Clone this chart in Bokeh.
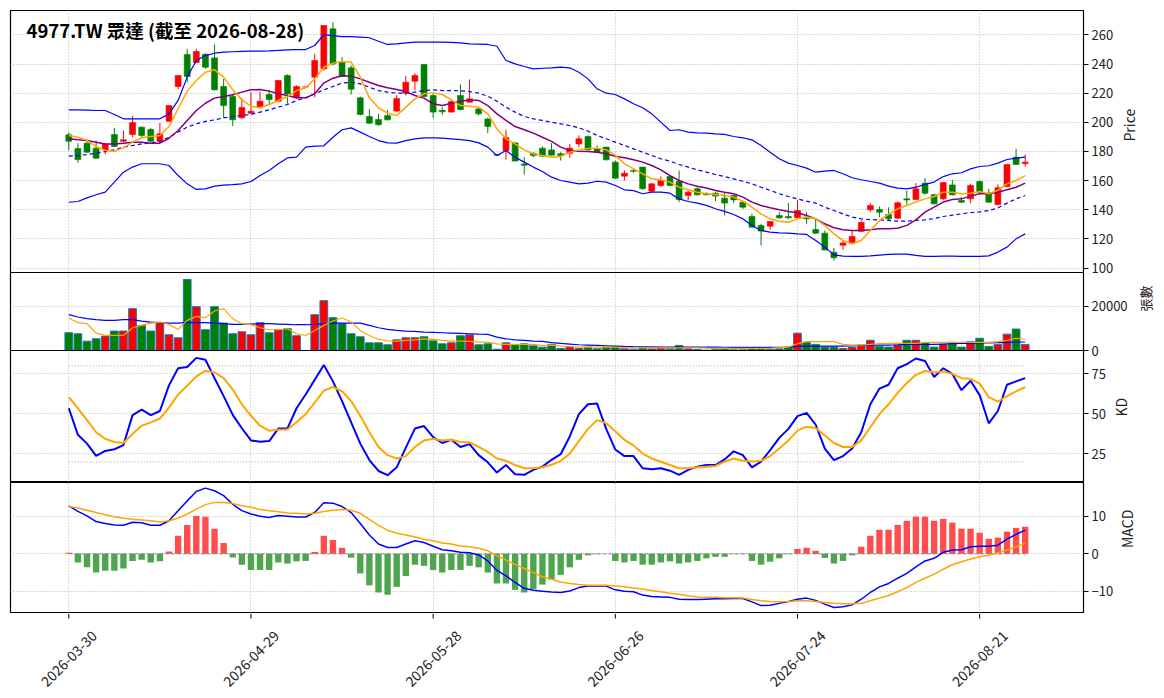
import math
from bokeh.plotting import figure
from bokeh.layouts import column
from bokeh.models import FixedTicker, Range1d, Label, ColumnDataSource
from bokeh.core.properties import value
from bokeh.embed import file_html
from bokeh.resources import INLINE

title_text = "4977.TW 眾達 (截至 2026-08-28)"
tick_pos = [0, 20, 40, 60, 80, 100]
tick_labels = ["2026-03-30", "2026-04-29", "2026-05-28", "2026-06-26", "2026-07-24", "2026-08-21"]

open_ = [191.4, 182.0, 185.7, 182.3, 181.1, 191.6, 187.0, 191.7, 196.7, 195.1,
         187.1, 200.8, 224.6, 246.5, 241.0, 246.7, 244.2, 224.6, 217.7, 203.1,
         206.3, 210.4, 219.1, 214.5, 232.1, 216.8, 224.3, 231.0, 236.7, 264.1,
         241.2, 237.4, 216.8, 204.0, 202.0, 204.7, 207.7, 220.0, 228.2, 239.6,
         218.4, 208.2, 207.0, 218.4, 213.8, 209.2, 202.2, 178.0, 180.7, 185.9,
         171.4, 178.8, 182.3, 181.1, 178.5, 178.8, 185.2, 190.3, 181.8, 183.0,
         172.7, 163.1, 167.0, 169.3, 152.8, 156.7, 162.8, 159.4, 149.8, 154.4,
         151.0, 151.4, 148.0, 149.8, 145.2, 135.4, 129.2, 128.8, 136.1, 135.4,
         134.5, 135.0, 126.5, 124.0, 110.9, 115.7, 117.1, 125.3, 140.0, 140.2,
         136.8, 134.2, 147.5, 147.1, 158.3, 150.3, 147.5, 157.1, 146.4, 147.5,
         159.4, 151.4, 143.6, 156.0, 176.1, 171.6]
high = [193.2, 185.7, 187.0, 187.5, 185.7, 196.2, 194.4, 204.4, 197.1, 196.2,
        199.6, 211.5, 232.1, 250.4, 250.4, 247.4, 253.4, 229.8, 219.5, 216.8,
        220.7, 221.1, 222.3, 229.0, 233.0, 225.3, 224.3, 247.0, 266.4, 268.7,
        244.7, 239.0, 217.7, 209.0, 205.8, 208.6, 218.9, 231.7, 233.7, 240.1,
        219.5, 210.4, 215.0, 226.0, 229.4, 210.4, 203.1, 178.0, 194.9, 186.4,
        176.1, 179.5, 183.4, 185.7, 179.5, 185.2, 191.0, 191.0, 184.1, 183.0,
        173.8, 167.0, 168.6, 169.3, 158.3, 162.8, 163.5, 167.0, 153.2, 155.5,
        152.0, 152.1, 152.1, 150.3, 145.7, 137.2, 130.4, 132.0, 138.4, 144.6,
        146.8, 138.4, 133.8, 125.8, 113.9, 119.0, 125.8, 132.7, 144.5, 142.3,
        141.8, 145.7, 153.2, 158.3, 161.7, 151.0, 158.7, 160.5, 148.7, 157.8,
        160.1, 154.4, 157.3, 171.1, 181.8, 178.0]
low = [180.7, 172.2, 179.0, 175.0, 178.0, 183.0, 186.4, 189.8, 189.8, 186.4,
       186.6, 200.3, 222.7, 227.5, 240.6, 236.7, 221.8, 203.1, 197.4, 202.4,
       205.8, 210.0, 211.8, 213.8, 212.7, 216.0, 224.3, 217.2, 235.5, 239.0,
       231.0, 219.1, 204.7, 199.0, 197.8, 201.3, 207.0, 218.4, 221.8, 217.2,
       203.1, 205.1, 206.7, 208.1, 213.8, 204.7, 192.6, 177.5, 174.3, 173.4,
       164.2, 176.1, 176.1, 177.2, 173.8, 175.7, 183.0, 180.7, 179.5, 173.8,
       161.2, 160.1, 165.4, 153.9, 152.1, 155.5, 156.2, 145.2, 146.4, 149.8,
       150.0, 146.0, 136.1, 144.6, 140.7, 128.1, 115.5, 126.3, 133.8, 133.8,
       133.8, 130.4, 123.5, 112.1, 105.2, 112.5, 116.7, 124.7, 138.4, 134.9,
       132.7, 133.8, 143.4, 147.1, 150.3, 143.6, 146.8, 149.8, 144.5, 144.5,
       151.6, 144.8, 142.9, 155.5, 171.1, 169.7]
close = [187.0, 174.5, 179.5, 175.4, 185.2, 183.4, 188.0, 199.9, 191.0, 187.1,
         192.1, 211.5, 232.1, 231.4, 248.6, 237.8, 222.3, 211.5, 201.7, 210.2,
         207.6, 214.5, 215.7, 228.7, 219.5, 224.6, 224.3, 242.4, 266.4, 240.1,
         231.4, 222.7, 205.4, 199.4, 198.3, 201.7, 216.3, 227.5, 232.1, 217.7,
         207.0, 207.2, 214.3, 208.8, 216.1, 205.8, 197.1, 177.5, 189.4, 173.4,
         170.5, 177.2, 176.8, 177.5, 177.2, 182.3, 188.7, 181.1, 179.5, 174.3,
         161.7, 165.1, 166.4, 154.4, 157.8, 160.1, 156.7, 147.1, 152.1, 150.3,
         150.3, 149.4, 144.6, 146.8, 141.8, 128.1, 125.4, 132.0, 134.5, 134.5,
         139.5, 133.8, 124.0, 112.5, 107.1, 117.3, 121.7, 131.3, 143.0, 138.4,
         133.8, 144.8, 146.8, 154.4, 151.4, 144.1, 158.7, 150.3, 145.2, 156.7,
         152.1, 145.2, 155.1, 171.1, 171.1, 172.7]
volume = [8030, 7575, 4240, 5300, 6515, 8790, 8790, 18940, 11360, 8790,
          12575, 7120, 5760, 32120, 19850, 9390, 19850, 12420, 7575, 8485,
          7120, 12575, 8030, 9390, 9850, 6665, 0, 16210, 22570, 14850,
          12120, 7575, 6210, 3485, 3485, 2575, 4850, 5760, 5760, 6210,
          4390, 3030, 3485, 6665, 7120, 2575, 3030, 600, 3485, 2575,
          3030, 2120, 1515, 2770, 900, 1540, 900, 1540, 770, 1540,
          1850, 770, 600, 1230, 770, 1230, 770, 2300, 770, 460,
          150, 600, 770, 300, 300, 770, 770, 460, 770, 1540,
          7850, 3700, 2770, 1540, 1540, 920, 1540, 2460, 4620, 1850,
          1540, 2460, 4620, 4620, 3390, 1540, 2770, 3700, 1540, 4000,
          5540, 1850, 2770, 7390, 9700, 2770]
vol_ma5 = [14700, 12575, 12120, 7880, 6800, 6800, 6800, 10300, 11360, 12420,
           12880, 11820, 9540, 13635, 15450, 14850, 17880, 18940, 14390, 12120,
           11665, 10300, 9390, 9390, 9850, 7575, 6800, 9090, 11360, 13330,
           14700, 12880, 9090, 6800, 5000, 4390, 4240, 4545, 4850, 5300,
           5000, 4545, 4240, 4240, 4090, 3790, 3790, 3030, 2730, 2730,
           2730, 2730, 2270, 2460, 2000, 1800, 1540, 1540, 1540, 1540,
           1540, 1300, 1230, 1230, 1230, 1230, 1230, 1230, 1230, 1230,
           1100, 1000, 1000, 1000, 1000, 1000, 1000, 1000, 1300, 1540,
           3080, 4000, 4000, 4000, 4000, 2770, 2460, 2460, 2770, 3080,
           3230, 3230, 3230, 3230, 3700, 3700, 3700, 3700, 3700, 3700,
           3700, 3700, 4000, 4620, 5540, 5080]
vol_ma20 = [16210, 15150, 14390, 13940, 13635, 13635, 13940, 13940, 13330, 12880,
            12575, 12420, 12420, 12725, 12575, 12575, 12420, 12120, 11820, 11820,
            11970, 12120, 12120, 11970, 11820, 11665, 11665, 11820, 12120, 12420,
            12420, 12420, 12420, 11360, 10300, 9540, 9090, 8790, 8640, 8330,
            8180, 8030, 7880, 7725, 7575, 7420, 7270, 6060, 5300, 4850,
            4545, 4240, 4090, 3540, 3230, 2920, 2610, 2460, 2310, 2150,
            2000, 1850, 1770, 1700, 1620, 1540, 1540, 1540, 1540, 1540,
            1540, 1540, 1460, 1380, 1380, 1380, 1380, 1380, 1460, 1540,
            1850, 2000, 2000, 2000, 2000, 2000, 2150, 2310, 2460, 2460,
            2460, 2610, 2770, 2770, 2770, 2770, 2920, 3080, 3230, 3230,
            3390, 3390, 3540, 3700, 3850, 3850]
ma5 = [191.0, 189.8, 187.6, 183.4, 180.7, 180.2, 182.5, 186.4, 189.4, 190.3,
       191.0, 197.1, 209.3, 221.4, 228.7, 234.4, 236.0, 231.0, 222.3, 215.4,
       211.1, 210.0, 212.2, 215.0, 217.7, 221.8, 223.7, 229.8, 237.8, 240.6,
       241.7, 241.3, 231.0, 216.8, 210.0, 206.3, 204.7, 210.4, 216.1, 219.6,
       220.2, 219.1, 215.4, 211.5, 211.1, 210.4, 205.8, 195.5, 188.7, 185.2,
       181.1, 178.4, 177.2, 176.1, 176.6, 179.5, 181.1, 182.0, 182.3, 181.1,
       177.3, 171.5, 168.1, 164.7, 161.3, 160.6, 159.0, 155.5, 153.7, 152.1,
       151.0, 150.5, 149.8, 148.7, 145.9, 141.8, 137.2, 133.8, 132.2, 131.5,
       133.8, 135.0, 133.8, 129.3, 123.5, 119.0, 116.7, 119.0, 125.8, 132.7,
       136.8, 140.7, 143.0, 145.3, 147.5, 149.1, 152.1, 152.1, 151.0, 151.4,
       152.6, 151.0, 153.3, 157.8, 160.1, 163.5]
ma10 = [188.7, 188.0, 187.6, 186.4, 185.2, 185.2, 185.7, 186.4, 186.4, 185.7,
        185.7, 189.1, 194.4, 201.3, 208.1, 213.1, 216.6, 217.7, 218.9, 220.7,
        222.3, 222.5, 221.4, 219.6, 218.4, 216.8, 216.8, 219.6, 226.9, 230.3,
        231.9, 231.7, 229.8, 227.5, 225.3, 223.7, 222.5, 221.1, 218.4, 216.6,
        212.7, 211.5, 213.1, 214.5, 215.4, 215.0, 211.5, 205.8, 201.3, 197.1,
        194.9, 192.6, 189.8, 186.9, 183.0, 180.7, 180.2, 180.0, 179.5, 178.4,
        176.8, 175.7, 174.3, 172.7, 170.4, 167.4, 163.5, 160.1, 157.8, 156.2,
        154.9, 153.3, 152.1, 151.0, 148.7, 145.3, 143.0, 141.4, 140.0, 138.9,
        138.0, 136.1, 133.8, 130.4, 127.7, 126.3, 125.8, 125.8, 126.3, 127.0,
        127.0, 127.4, 129.3, 133.1, 138.4, 141.8, 145.3, 147.1, 147.5, 149.4,
        151.0, 151.0, 152.1, 153.7, 155.5, 158.3]
ma20 = [176.8, 177.2, 177.9, 178.8, 180.0, 181.1, 183.0, 184.1, 185.2, 185.9,
        186.8, 189.8, 193.3, 196.7, 199.0, 200.6, 201.7, 203.1, 204.0, 204.7,
        205.4, 207.0, 208.6, 210.4, 212.2, 215.0, 216.8, 219.6, 222.3, 224.6,
        226.9, 227.5, 226.4, 224.1, 221.8, 220.7, 220.0, 220.0, 220.7, 221.8,
        222.3, 221.8, 221.8, 221.6, 221.1, 220.0, 217.9, 214.5, 210.4, 207.0,
        204.0, 202.4, 201.3, 200.1, 199.0, 197.8, 196.2, 194.0, 191.0, 188.7,
        186.4, 184.1, 181.8, 179.5, 177.3, 175.0, 173.4, 171.1, 169.3, 167.4,
        165.8, 164.2, 162.8, 161.2, 159.6, 157.8, 155.5, 153.3, 151.0, 149.1,
        147.5, 145.9, 144.6, 141.8, 139.5, 137.2, 135.0, 133.8, 133.3, 133.1,
        132.7, 132.2, 132.2, 132.7, 133.1, 134.0, 135.4, 136.3, 137.2, 138.1,
        138.6, 139.5, 141.3, 144.6, 147.5, 149.8]
bb_upper = [208.6, 208.6, 208.4, 208.1, 208.1, 205.4, 202.4, 202.4, 202.4, 202.4,
            202.4, 205.8, 215.0, 231.0, 242.4, 245.8, 247.4, 248.1, 248.4, 248.6,
            248.8, 248.8, 249.0, 249.3, 249.7, 249.9, 249.9, 252.7, 260.2, 259.5,
            258.8, 258.8, 258.4, 258.0, 255.6, 253.4, 253.8, 254.5, 255.0, 255.0,
            255.0, 255.0, 254.8, 254.5, 253.8, 253.6, 253.4, 252.2, 242.4, 240.1,
            238.3, 236.7, 237.1, 237.4, 237.8, 237.4, 234.4, 229.8, 223.0, 220.0,
            219.1, 216.1, 212.7, 210.0, 205.8, 200.1, 194.4, 194.9, 193.3, 192.8,
            192.6, 192.1, 191.7, 190.3, 189.4, 188.0, 184.1, 179.5, 175.0, 172.0,
            170.4, 168.6, 165.8, 166.5, 167.0, 164.7, 162.0, 160.6, 159.4, 158.3,
            156.2, 154.9, 154.4, 155.5, 157.4, 159.0, 162.8, 164.7, 165.4, 168.1,
            169.7, 170.2, 172.0, 174.5, 175.4, 176.1]
bb_lower = [145.2, 145.7, 148.2, 150.3, 152.1, 159.0, 165.8, 169.3, 171.6, 171.6,
            171.6, 170.4, 163.5, 157.8, 154.0, 154.4, 156.2, 156.9, 157.3, 157.8,
            159.4, 163.5, 167.0, 171.6, 175.6, 176.1, 183.0, 183.7, 183.9, 189.8,
            194.9, 196.2, 193.3, 190.3, 187.5, 185.9, 185.7, 187.5, 188.7, 189.4,
            189.4, 189.1, 188.7, 188.2, 187.5, 185.9, 183.0, 177.2, 180.7, 176.1,
            172.7, 169.3, 166.3, 162.4, 160.1, 159.0, 157.8, 158.3, 159.6, 159.0,
            156.7, 153.7, 153.2, 151.0, 152.1, 152.1, 151.4, 147.5, 145.7, 144.6,
            143.0, 140.7, 138.9, 136.8, 133.8, 129.3, 125.8, 124.7, 124.2, 124.0,
            123.5, 123.1, 119.0, 114.4, 109.1, 108.2, 108.0, 108.0, 108.4, 108.9,
            109.4, 109.6, 109.6, 108.7, 108.0, 108.0, 108.2, 108.2, 108.0, 108.0,
            108.0, 108.4, 111.0, 114.4, 120.1, 123.5]
k_vals = [53.5, 36.9, 31.4, 23.8, 26.8, 27.9, 30.5, 49.2, 52.7, 49.2,
          51.8, 67.8, 78.5, 79.3, 85.0, 83.8, 72.3, 61.1, 49.4, 41.0,
          33.4, 32.6, 33.0, 40.8, 40.8, 53.5, 62.1, 71.3, 80.5, 70.3,
          58.0, 44.7, 31.4, 21.1, 14.3, 11.7, 16.6, 28.9, 40.8, 42.4,
          35.5, 31.8, 33.8, 29.3, 31.1, 24.2, 19.7, 13.3, 18.0, 12.3,
          11.9, 15.0, 17.0, 21.3, 24.8, 35.9, 49.8, 56.0, 56.4, 40.6,
          27.7, 23.6, 23.6, 16.0, 15.4, 16.0, 14.5, 11.9, 15.0, 17.0,
          18.0, 18.0, 21.5, 26.6, 24.2, 16.6, 20.1, 27.3, 35.0, 40.6,
          48.6, 50.6, 43.2, 28.3, 21.1, 23.6, 28.3, 38.5, 56.0, 65.8,
          68.2, 78.5, 81.1, 84.6, 83.0, 73.0, 78.5, 75.0, 64.8, 70.7,
          61.7, 44.1, 51.8, 68.2, 70.3, 72.3]
d_vals = [60.5, 53.4, 46.1, 38.5, 34.4, 32.4, 31.8, 37.5, 42.6, 44.7,
          47.1, 53.9, 62.1, 67.6, 73.4, 76.8, 76.0, 72.3, 65.2, 56.0,
          48.8, 42.6, 39.5, 40.0, 40.2, 44.7, 49.8, 57.0, 64.5, 66.8,
          64.1, 58.0, 48.8, 38.5, 29.3, 24.2, 22.1, 23.6, 29.3, 33.4,
          34.4, 33.4, 33.8, 32.4, 32.2, 29.3, 26.2, 22.1, 20.7, 18.0,
          16.0, 16.0, 16.6, 18.2, 20.5, 25.2, 33.0, 40.6, 46.1, 44.1,
          39.1, 33.8, 30.3, 25.2, 22.1, 20.1, 18.0, 16.0, 16.0, 16.6,
          17.0, 17.4, 20.1, 22.1, 20.7, 20.3, 20.7, 23.6, 28.3, 33.4,
          39.5, 42.0, 41.2, 36.5, 31.8, 29.3, 29.3, 33.4, 41.6, 49.8,
          56.0, 63.1, 69.3, 74.4, 76.8, 76.0, 76.4, 75.0, 72.3, 71.9,
          68.9, 60.5, 57.6, 61.1, 64.1, 66.8]
kd_upper_ref = 80
kd_lower_ref = 20
macd_hist = [0.27, -2.3, -3.6, -5.0, -4.5, -4.5, -3.9, -1.9, -1.6, -2.3,
             -2.0, 0.6, 4.8, 7.7, 10.1, 9.9, 6.7, 2.9, -1.0, -2.9,
             -4.3, -4.3, -4.3, -2.3, -2.6, -2.0, -1.9, 0.5, 4.8, 3.7,
             1.6, -1.0, -5.2, -8.4, -10.3, -10.9, -8.8, -5.9, -2.9, -3.2,
             -4.3, -5.0, -4.3, -4.3, -3.2, -3.6, -5.0, -7.9, -7.9, -9.6,
             -10.3, -9.4, -8.2, -6.9, -5.6, -3.6, -1.6, -0.4, -0.1, 0.0,
             -1.9, -2.3, -1.9, -2.9, -2.9, -2.3, -2.0, -2.6, -2.3, -1.9,
             -1.2, -0.8, -0.8, -0.1, -0.1, -1.9, -2.9, -2.1, -1.2, -0.1,
             1.3, 1.6, 0.8, -1.1, -2.6, -1.9, -0.4, 1.9, 4.8, 6.4,
             6.4, 7.7, 8.8, 9.9, 9.9, 8.8, 9.3, 8.3, 6.7, 6.7,
             5.6, 4.0, 4.3, 5.9, 6.9, 7.2]
macd_dif = [12.8, 11.3, 10.1, 8.6, 8.1, 7.7, 7.6, 8.4, 8.3, 7.6,
            7.6, 8.8, 11.5, 14.1, 16.6, 17.5, 16.8, 15.5, 13.2, 11.5,
            10.6, 10.0, 9.7, 10.2, 10.0, 9.8, 9.8, 11.0, 13.6, 13.5,
            12.6, 11.0, 8.1, 5.0, 2.6, 1.7, 1.7, 2.6, 3.5, 3.0,
            2.0, 1.1, 0.8, 0.4, 0.3, -0.3, -1.9, -4.4, -5.9, -7.6,
            -9.2, -9.7, -10.0, -10.2, -10.3, -9.9, -9.0, -8.6, -8.5, -8.6,
            -9.6, -10.0, -10.1, -11.0, -11.4, -11.5, -11.6, -12.1, -12.2, -12.2,
            -12.1, -12.0, -12.0, -11.9, -11.9, -12.8, -13.8, -13.7, -13.2, -12.7,
            -12.1, -11.8, -12.4, -13.4, -14.3, -14.1, -13.6, -12.1, -10.3, -8.8,
            -7.9, -6.5, -5.2, -3.5, -1.9, -1.2, 0.4, 1.0, 1.1, 1.9,
            2.0, 2.0, 2.3, 3.9, 5.2, 6.3]
macd_dea = [12.6, 12.2, 11.6, 11.0, 10.4, 9.9, 9.5, 9.2, 9.0, 8.8,
            8.5, 8.8, 9.5, 10.6, 11.9, 13.1, 13.7, 13.7, 13.4, 12.8,
            12.4, 11.8, 11.5, 11.2, 10.9, 10.8, 10.6, 10.8, 11.3, 11.6,
            11.8, 11.6, 10.8, 9.2, 7.6, 6.3, 5.5, 5.0, 4.5, 3.9,
            3.5, 2.9, 2.6, 2.1, 1.9, 1.5, 0.8, -0.5, -1.7, -2.8,
            -3.9, -5.0, -6.1, -6.8, -7.5, -7.9, -8.2, -8.4, -8.4, -8.4,
            -8.6, -8.8, -9.1, -9.4, -9.8, -10.1, -10.5, -10.8, -11.2, -11.5,
            -11.6, -11.6, -11.7, -11.7, -11.8, -12.2, -12.5, -12.7, -12.8, -12.7,
            -12.5, -12.5, -12.7, -13.0, -13.2, -13.3, -13.3, -13.2, -12.5, -11.8,
            -11.1, -10.1, -9.0, -7.6, -6.5, -5.4, -4.1, -2.9, -2.1, -1.4,
            -0.8, -0.4, 0.3, 1.0, 1.9, 2.8]

price_ticks = [100, 120, 140, 160, 180, 200, 220, 240, 260]
vol_ticks = [0, 20000]
kd_ticks = [25, 50, 75]
macd_ticks = [-10, 0, 10]

FONT = "Noto Sans CJK TC"
UP = "#ff0000"
DOWN = "#008000"
TXT = "#222222"
FRAME_W = 1073
LEFT = 10
RIGHT = 80
OVER = 8

n = len(close)
idx = list(range(n))
is_up = [c >= o for o, c in zip(open_, close)]
cndl_color = [UP if u else DOWN for u in is_up]

xr = Range1d(-6.4, 111.4)


def make_fig(frame_h, yr, yticks, label, standoff, top=0, bottom=0, transparent_border=False):
    p = figure(frame_width=FRAME_W, frame_height=frame_h, x_range=xr, y_range=Range1d(*yr),
               toolbar_location=None, output_backend="svg",
               x_axis_location=None, y_axis_location="right",
               min_border_left=LEFT, min_border_right=RIGHT, min_border_top=top,
               min_border_bottom=bottom)
    p.outline_line_color = "black"
    p.outline_line_width = 1.2
    p.background_fill_color = "white"
    p.border_fill_color = None if transparent_border else "white"
    p.xgrid.ticker = FixedTicker(ticks=tick_pos)
    p.ygrid.ticker = FixedTicker(ticks=yticks)
    for g in (p.xgrid, p.ygrid):
        g.grid_line_color = "#b0b0b0"
        g.grid_line_dash = "1 2"
        g.grid_line_width = 0.9
    ax = p.yaxis[0]
    ax.ticker = FixedTicker(ticks=yticks)
    ax.axis_line_color = None
    ax.major_tick_out = 5
    ax.major_tick_in = 0
    ax.minor_tick_line_color = None
    ax.major_label_standoff = 3
    ax.major_label_text_font = FONT
    ax.major_label_text_font_size = "13px"
    ax.major_label_text_color = TXT
    ax.axis_label = label
    ax.axis_label_text_font = FONT
    ax.axis_label_text_font_size = "14px"
    ax.axis_label_text_font_style = "normal"
    ax.axis_label_text_color = TXT
    ax.axis_label_standoff = standoff
    try:
        ax.axis_label_orientation = math.pi / 2
    except Exception:
        pass
    return p


# ---- price panel
p1 = make_fig(262, (97.0, 276.7), price_ticks, "Price", 13, top=10, bottom=OVER)
p1.margin = (0, 0, -OVER, 0)
body_top = [max(o, c) for o, c in zip(open_, close)]
body_bot = [min(o, c) for o, c in zip(open_, close)]
src = ColumnDataSource(dict(x=idx, high=high, low=low, top=body_top, bot=body_bot, color=cndl_color))
p1.segment(x0="x", y0="low", x1="x", y1="high", color="color", line_width=1, source=src)
p1.vbar(x="x", width=0.65, top="top", bottom="bot", fill_color="color", line_color="color",
        line_width=0.6, source=src)
p1.line(idx, bb_upper, color="blue", line_width=1.2)
p1.line(idx, bb_lower, color="blue", line_width=1.2)
p1.line(idx, ma20, color="blue", line_width=1.2, line_dash="4 3")
p1.line(idx, ma10, color="purple", line_width=1.5)
p1.line(idx, ma5, color="orange", line_width=1.5)
p1.add_layout(Label(x=-4.64, y=263.6, text=title_text, text_font=FONT, text_font_size="18.5px",
                    text_font_style="bold", text_baseline="middle", text_align="left",
                    text_color="black"))

# ---- volume panel
p2 = make_fig(78, (0, 35300), vol_ticks, "張數", 15, bottom=OVER, transparent_border=True)
p2.margin = (0, 0, -OVER, 0)
p2.vbar(x=idx, width=0.85, top=volume, bottom=0, fill_color=cndl_color, line_color="#1f77b4",
        line_width=1)
p2.line(idx, vol_ma20, color="blue", line_width=1.2)
p2.line(idx, vol_ma5, color="orange", line_width=1.2)
p2.yaxis[0].axis_label_text_font_size = "13px"

# ---- KD panel
p3 = make_fig(132, (7.1, 89.6), kd_ticks, "KD", 12, transparent_border=True)
p3.line([idx[0], idx[-1]], [kd_upper_ref] * 2, color="#999999", line_width=0.9, line_dash="1 2")
p3.line([idx[0], idx[-1]], [kd_lower_ref] * 2, color="#999999", line_width=0.9, line_dash="1 2")
p3.line(idx, k_vals, color="blue", line_width=2)
p3.line(idx, d_vals, color="orange", line_width=2)

# ---- MACD panel
p4 = make_fig(131, (-15.9, 19.0), macd_ticks, "MACD", 11)
hist_color = ["#ff4d4d" if h >= 0 else "#4da64d" for h in macd_hist]
p4.vbar(x=idx, width=0.7, top=macd_hist, bottom=0, fill_color=hist_color, line_color=None)
p4.line([idx[0], idx[-1]], [0, 0], color="#808080", line_width=0.9, line_dash="4 2")
p4.line(idx, macd_dif, color="blue", line_width=1.5)
p4.line(idx, macd_dea, color="orange", line_width=1.5)

# ---- date axis strip (tick marks + rotated date labels)
STRIP_H = 84
p5 = figure(frame_width=FRAME_W, frame_height=STRIP_H, x_range=xr, y_range=Range1d(0, STRIP_H),
            toolbar_location=None, output_backend="svg", x_axis_location=None,
            y_axis_location=None, min_border_left=LEFT, min_border_right=RIGHT,
            min_border_top=0, min_border_bottom=0)
p5.outline_line_color = None
p5.xgrid.visible = False
p5.ygrid.visible = False
p5.background_fill_color = "white"
p5.border_fill_color = "white"
tick_len = 5
label_drop = 45
p5.segment(x0=tick_pos, y0=[STRIP_H] * len(tick_pos), x1=tick_pos,
           y1=[STRIP_H - tick_len] * len(tick_pos), color="black", line_width=1)
p5.text(x=tick_pos, y=[STRIP_H - label_drop] * len(tick_pos), text=tick_labels,
        angle=math.pi / 4, text_align="center", text_baseline="middle",
        text_font=value(FONT), text_font_size="14px", text_color=TXT)

layout = column(p1, p2, p3, p4, p5, spacing=0)
open("out.html", "w").write(file_html(layout, INLINE))
